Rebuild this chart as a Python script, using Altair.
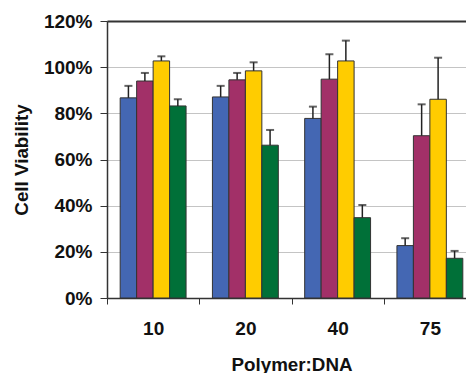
import altair as alt
import pandas as pd

categories = ["10", "20", "40", "75"]
series = ["S1", "S2", "S3", "S4"]
colors = ["#4467B3", "#A23068", "#FFCC00", "#007038"]
means = {
    "S1": [86.7, 87.1, 77.8, 22.7],
    "S2": [94.0, 94.5, 94.8, 70.3],
    "S3": [102.7, 98.4, 102.7, 86.1],
    "S4": [83.2, 66.2, 34.8, 17.2],
}
errors = {
    "S1": [5.2, 4.8, 5.1, 3.2],
    "S2": [3.5, 3.0, 10.8, 13.6],
    "S3": [2.0, 3.7, 8.8, 18.0],
    "S4": [2.9, 6.6, 5.5, 3.2],
}
y_ticks = [0, 0.2, 0.4, 0.6, 0.8, 1.0, 1.2]

rows = []
for s in series:
    for i, c in enumerate(categories):
        m = means[s][i] / 100
        e = errors[s][i] / 100
        rows.append({"ratio": c, "series": s, "v": m, "hi": m + e})
df = pd.DataFrame(rows)

FONT = "Liberation Sans"

x = alt.X("ratio:N", sort=categories, title="Polymer:DNA",
          scale=alt.Scale(paddingInner=0, paddingOuter=0, range=[0, 369]),
          axis=alt.Axis(labelAngle=0, tickBand="extent", tickSize=6,
                        labelPadding=15, titlePadding=17,
                        labelFontSize=19, titleFontSize=18.8,
                        labelFont=FONT, titleFont=FONT,
                        labelFontWeight="bold", titleFontWeight="bold",
                        labelColor="#111", titleColor="#111",
                        domainColor="#333", domainWidth=1.5,
                        tickColor="#333", grid=False))
xo = alt.XOffset("series:N", sort=series,
                 scale=alt.Scale(paddingInner=0, paddingOuter=0.8))
yscale = alt.Scale(domain=[0, 1.2], nice=False)

bars = alt.Chart(df).mark_bar(stroke="#333", strokeWidth=1).encode(
    x=x,
    xOffset=xo,
    y=alt.Y("v:Q", scale=yscale, title="Cell Viability",
            axis=alt.Axis(format=".0%", values=y_ticks, tickSize=7,
                          labelPadding=8, titlePadding=12,
                          labelFontSize=19, titleFontSize=18.8,
                          labelFont=FONT, titleFont=FONT,
                          labelFontWeight="bold", titleFontWeight="bold",
                          labelColor="#111", titleColor="#111",
                          domainColor="#333", domainWidth=1.5,
                          tickColor="#333",
                          gridColor=alt.condition("datum.value >= 1.19", alt.value("#333"), alt.value("#c4c4c4")),
                          gridWidth=alt.condition("datum.value >= 1.19", alt.value(1.8), alt.value(1.2)))),
    color=alt.Color("series:N", sort=series,
                    scale=alt.Scale(domain=series, range=colors), legend=None),
)

err = alt.Chart(df).mark_rule(color="#222", strokeWidth=1.5).encode(
    x=alt.X("ratio:N", sort=categories),
    xOffset=xo,
    y=alt.Y("v:Q", scale=yscale),
    y2="hi:Q",
)

caps = alt.Chart(df).mark_tick(color="#222", size=8, thickness=2).encode(
    x=alt.X("ratio:N", sort=categories),
    xOffset=xo,
    y=alt.Y("hi:Q", scale=yscale),
)

chart = alt.layer(bars, err, caps).properties(
    width=359, height=277,
    autosize=alt.AutoSizeParams(type="none"),
    padding={"left": 99, "top": 13, "right": 0, "bottom": 76},
).configure_view(strokeWidth=0).configure(background="white")

chart.save("out.html", embed_options={"renderer": "svg", "actions": False})
